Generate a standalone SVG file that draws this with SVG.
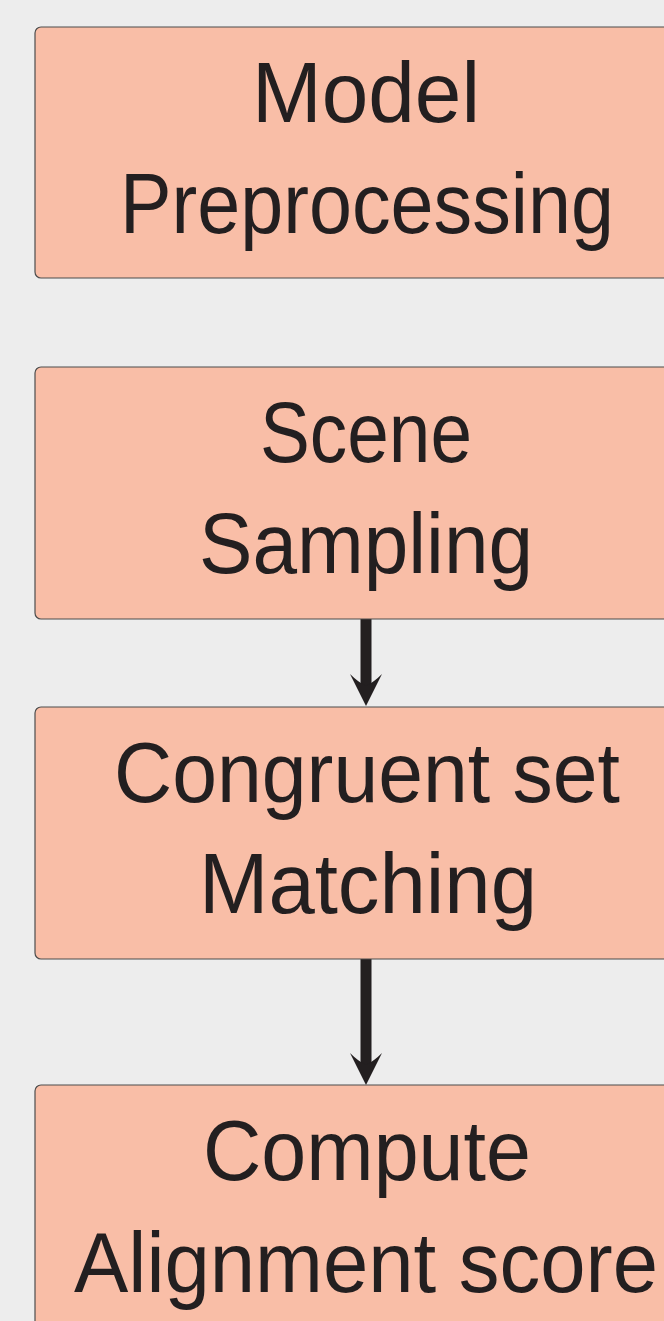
<svg xmlns="http://www.w3.org/2000/svg" width="664" height="1321" viewBox="0 0 664 1321">
<style>
.box{fill:#f9bea7;stroke:#4d4d4d;stroke-width:1.2}
.lbl{font-family:"Liberation Sans",Arial,sans-serif;font-size:86px;fill:#231f20;text-anchor:middle}
.shaft{stroke:#231f20;stroke-width:11;fill:none}
.head{fill:#231f20}
</style>
<rect width="664" height="1321" fill="#ededed"/>
<g id="connectors">
<line class="shaft" x1="366" y1="619" x2="366" y2="690"/>
<path class="head" d="M366 706 L350 674 Q358 682 366 686 Q374 682 382 674 Z"/>
<line class="shaft" x1="366" y1="959" x2="366" y2="1068"/>
<path class="head" d="M366 1085 L350 1053 Q358 1061 366 1065 Q374 1061 382 1053 Z"/>
</g>
<g id="node1">
<rect class="box" x="35" y="27" width="664" height="251" rx="6"/>
<text class="lbl" x="366" y="122" textLength="228" lengthAdjust="spacingAndGlyphs">Model</text>
<text class="lbl" x="367" y="233" textLength="494" lengthAdjust="spacingAndGlyphs">Preprocessing</text>
</g>
<g id="node2">
<rect class="box" x="35" y="367" width="664" height="252" rx="6"/>
<text class="lbl" x="366" y="462" textLength="212" lengthAdjust="spacingAndGlyphs">Scene</text>
<text class="lbl" x="366" y="573" textLength="334" lengthAdjust="spacingAndGlyphs">Sampling</text>
</g>
<g id="node3">
<rect class="box" x="35" y="707" width="664" height="252" rx="6"/>
<text class="lbl" x="367" y="802" textLength="506" lengthAdjust="spacingAndGlyphs">Congruent set</text>
<text class="lbl" x="368" y="913" textLength="338" lengthAdjust="spacingAndGlyphs">Matching</text>
</g>
<g id="node4">
<rect class="box" x="35" y="1085" width="664" height="260" rx="6"/>
<text class="lbl" x="367" y="1180" textLength="328" lengthAdjust="spacingAndGlyphs">Compute</text>
<text class="lbl" x="366" y="1292" textLength="584" lengthAdjust="spacingAndGlyphs">Alignment score</text>
</g>
</svg>
